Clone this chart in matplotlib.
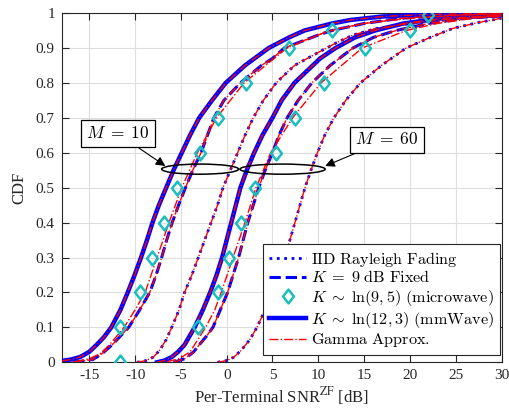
import matplotlib
matplotlib.use("Agg")
import matplotlib.pyplot as plt
from matplotlib.patches import Ellipse
from matplotlib.path import Path

plt.rcParams['font.family'] = ['Liberation Serif', 'DejaVu Serif']
plt.rcParams['mathtext.fontset'] = 'cm'
plt.rcParams['axes.unicode_minus'] = False

# ---------------- data ----------------
# M = 10, mmWave K ~ ln(12,3) (solid)
S10_x = [-18, -17, -16, -15, -14.2, -13.4, -12.6, -11.6, -10.8, -10.05, -9.35, -8.7, -8.1, -7.4, -6.6,
         -5.8, -4.9, -4.0, -3.0, -1.6, -0.1, 2.0, 4.6, 6.8, 8.5, 10.0, 11.5, 13.5, 17, 22, 30]
S10_y = [0.004, 0.008, 0.015, 0.03, 0.05, 0.072, 0.1, 0.15, 0.2, 0.25, 0.3, 0.35, 0.4, 0.45, 0.5,
         0.55, 0.6, 0.65, 0.7, 0.75, 0.8, 0.85, 0.9, 0.93, 0.95, 0.96, 0.97, 0.98, 0.99, 0.996, 0.999]
# M = 10, K = 9 dB fixed (dashed)
D10_x = [-16.8, -15.8, -14.6, -13.6, -12.5, -11.6, -10.7, -9.5, -8.4, -7.7, -7.1, -6.55, -5.95, -5.25,
         -4.5, -3.7, -2.8, -2.1, -1.4, -0.3, 1.5, 3.8, 5.0, 6.3, 10.0, 11.5, 15, 19, 25, 30]
D10_y = [0.001, 0.003, 0.008, 0.025, 0.05, 0.075, 0.1, 0.15, 0.2, 0.25, 0.3, 0.35, 0.4, 0.45,
         0.5, 0.55, 0.6, 0.65, 0.7, 0.75, 0.8, 0.85, 0.87, 0.9, 0.937, 0.95, 0.97, 0.985, 0.994, 0.998]
# M = 10, microwave K ~ ln(9,5) (markers)
W10_x = [-11.7, -9.45, -8.2, -6.85, -5.45, -2.9, -1.0, 2.1, 6.8, 11.5, 22.0]
W10_y = [0.1, 0.2, 0.3, 0.4, 0.5, 0.6, 0.7, 0.8, 0.9, 0.95, 0.994]
# M = 10, gamma approximation of the microwave case
GW10_x = [-16.5, -15.0, -13.8, -12.8, -11.2, -10.0, -8.9, -7.6, -6.3, -4.9, -3.2, -1.1, 1.9,
          6.6, 11.2, 15, 20, 26, 30]
GW10_y = [0.002, 0.01, 0.025, 0.05, 0.1, 0.15, 0.2, 0.3, 0.4, 0.5, 0.6, 0.7, 0.8,
          0.9, 0.95, 0.97, 0.985, 0.994, 0.997]
# M = 10, IID Rayleigh (dotted)
R10_x = [-9.8, -8.8, -8.0, -7.3, -6.6, -6.0, -5.2, -4.6, -3.8, -3.1, -2.4, -1.7, -1.0, -0.4, 0.4,
         1.2, 2.0, 2.9, 4.0, 5.4, 7.4, 10.2, 12.0, 13.8, 16.2, 20, 24, 28, 30]
R10_y = [0.0, 0.005, 0.015, 0.035, 0.065, 0.1, 0.15, 0.2, 0.25, 0.3, 0.35, 0.4, 0.45, 0.5, 0.55,
         0.6, 0.65, 0.7, 0.75, 0.8, 0.85, 0.89, 0.915, 0.937, 0.955, 0.97, 0.982, 0.99, 0.993]

# M = 60, mmWave (solid)
S60_x = [-7.6, -6.8, -6.0, -5.3, -4.6, -3.5, -2.6, -1.8, -1.1, -0.5, 0.0, 0.5, 1.0, 1.5, 2.2, 3.0,
         3.9, 5.0, 6.0, 7.4, 9.0, 10.2, 11.9, 14.0, 16.2, 19.3, 23.5, 30]
S60_y = [0.0, 0.005, 0.015, 0.03, 0.05, 0.1, 0.15, 0.2, 0.25, 0.3, 0.35, 0.4, 0.45, 0.5, 0.55, 0.6,
         0.65, 0.7, 0.75, 0.8, 0.84, 0.87, 0.9, 0.93, 0.95, 0.97, 0.985, 0.994]
# M = 60, K = 9 dB fixed (dashed)
D60_x = [-5.8, -4.6, -3.6, -3.0, -2.2, -1.5, -0.7, 0.1, 0.7, 1.3, 1.8, 2.3, 2.9, 3.5, 4.2, 5.0,
         5.7, 6.6, 7.8, 9.3, 11.3, 13.8, 16, 18.5, 22, 26, 30]
D60_y = [0.0, 0.01, 0.03, 0.05, 0.075, 0.1, 0.15, 0.2, 0.25, 0.3, 0.35, 0.4, 0.45, 0.5, 0.55, 0.6,
         0.65, 0.7, 0.75, 0.8, 0.85, 0.9, 0.93, 0.95, 0.97, 0.985, 0.992]
# M = 60, microwave (markers)
W60_x = [-11.6, -3.1, -1.0, 0.2, 1.6, 3.1, 5.4, 7.5, 10.6, 15.1, 20.0]
W60_y = [0.0, 0.1, 0.2, 0.3, 0.4, 0.5, 0.6, 0.7, 0.8, 0.9, 0.95]
# M = 60, gamma approximation of the microwave case
GW60_x = [-6.5, -5.2, -4.0, -2.3, -1.3, -0.6, 0.7, 2.0, 3.2, 4.8, 7.2, 10.3, 14.8, 19.6, 23, 27, 30]
GW60_y = [0.002, 0.01, 0.03, 0.1, 0.15, 0.2, 0.3, 0.4, 0.5, 0.6, 0.7, 0.8, 0.9, 0.95, 0.97, 0.985, 0.99]
# M = 60, IID Rayleigh (dotted)
R60_x = [-1.0, 0.0, 0.8, 1.6, 2.5, 3.3, 4.2, 4.9, 5.6, 6.3, 6.9, 7.45, 8.0, 8.55, 9.2, 9.9, 10.7,
         11.7, 13.0, 14.6, 16.9, 19.6, 22.2, 24.7, 27.5, 30]
R60_y = [0.0, 0.005, 0.015, 0.035, 0.064, 0.1, 0.15, 0.2, 0.25, 0.3, 0.35, 0.4, 0.45, 0.5, 0.55, 0.6,
         0.65, 0.7, 0.75, 0.8, 0.85, 0.9, 0.93, 0.956, 0.973, 0.985]

x_ticks = [-15, -10, -5, 0, 5, 10, 15, 20, 25, 30]
y_ticks = [0, 0.1, 0.2, 0.3, 0.4, 0.5, 0.6, 0.7, 0.8, 0.9, 1]
y_tick_labels = ['0', '0.1', '0.2', '0.3', '0.4', '0.5', '0.6', '0.7', '0.8', '0.9', '1']
legend_labels = [r'$\mathrm{IID\ Rayleigh\ Fading}$',
                 r'$K\;=\;9\ \mathrm{dB\ Fixed}$',
                 r'$K\;\sim\;\ln(9,5)\ \mathrm{(microwave)}$',
                 r'$K\;\sim\;\ln(12,3)\ \mathrm{(mmWave)}$',
                 r'$\mathrm{Gamma\ Approx.}$']

# ---------------- figure ----------------
fig = plt.figure(figsize=(5.09, 4.09), dpi=100)
ax = fig.add_axes([0.1214, 0.1142, 0.8639, 0.854])

blue = (0, 0, 1)
red = (1, 0, 0)
cyan = '#19BFBF'
diamond = Path([(0, 1), (0.78, 0), (0, -1), (-0.78, 0), (0, 1)],
               [Path.MOVETO, Path.LINETO, Path.LINETO, Path.LINETO, Path.CLOSEPOLY])

h_r, = ax.plot(R10_x, R10_y, ':', color=blue, lw=2.0, zorder=3)
ax.plot(R60_x, R60_y, ':', color=blue, lw=2.0, zorder=3)
h_d, = ax.plot(D10_x, D10_y, '--', color=blue, lw=2.2, zorder=3)
ax.plot(D60_x, D60_y, '--', color=blue, lw=2.2, zorder=3)
h_s, = ax.plot(S10_x, S10_y, '-', color=blue, lw=3.2, zorder=3)
ax.plot(S60_x, S60_y, '-', color=blue, lw=3.2, zorder=3)

# gamma approximations (coincide with the simulated curves except microwave)
for gx, gy in [(R10_x, R10_y), (R60_x, R60_y), (D10_x, D10_y), (D60_x, D60_y),
               (S10_x, S10_y), (S60_x, S60_y), (GW10_x, GW10_y), (GW60_x, GW60_y)]:
    h_g, = ax.plot(gx, gy, '-.', color=red, lw=1.0, zorder=4)

h_w, = ax.plot(W10_x, W10_y, linestyle='none', marker=diamond, ms=10, mfc='none',
               mec=cyan, mew=1.8, zorder=5)
ax.plot(W60_x, W60_y, linestyle='none', marker=diamond, ms=10, mfc='none',
        mec=cyan, mew=1.8, zorder=5)

ax.set_xlim(-18, 30)
ax.set_ylim(0, 1)
ax.set_xticks(x_ticks)
ax.set_yticks(y_ticks)
ax.set_yticklabels(y_tick_labels)
ax.grid(True, color=(0.87, 0.87, 0.87), lw=0.8)
ax.set_axisbelow(True)
ax.tick_params(direction='in', top=True, right=True, length=5, width=0.8,
               labelsize=11, colors=(0.15, 0.15, 0.15), pad=5)
for sp in ax.spines.values():
    sp.set_color((0.15, 0.15, 0.15))
    sp.set_linewidth(0.8)

ax.set_xlabel(r'Per-Terminal SNR$^{\mathrm{ZF}}$ [dB]', fontsize=12, color=(0.15, 0.15, 0.15),
              labelpad=2, math_fontfamily='stix')
ax.set_ylabel('CDF', fontsize=12, color=(0.15, 0.15, 0.15), labelpad=6)

# ellipses and annotations
ax.add_patch(Ellipse((-2.9, 0.553), 8.4, 0.029, fill=False, ec='black', lw=1.1, zorder=6))
ax.add_patch(Ellipse((6.1, 0.553), 9.3, 0.029, fill=False, ec='black', lw=1.1, zorder=6))
box = dict(boxstyle='square,pad=0.3', fc='white', ec='black', lw=0.9)
arrow = dict(arrowstyle='-|>', color='black', lw=0.8, mutation_scale=14, shrinkA=0, shrinkB=0)
ax.annotate(r'$M\;=\;10$', xy=(-6.7, 0.562), xytext=(-11.9, 0.655), fontsize=12.5,
            ha='center', va='center', bbox=box, arrowprops=arrow, zorder=7)
ax.annotate(r'$M\;=\;60$', xy=(10.75, 0.562), xytext=(17.5, 0.636), fontsize=12.5,
            ha='center', va='center', bbox=box, arrowprops=arrow, zorder=7)

leg = ax.legend([h_r, h_d, h_w, h_s, h_g], legend_labels, loc='lower right',
                bbox_to_anchor=(0.9966, 0.0209), fontsize=11.7, handlelength=2.3,
                handletextpad=0.3, labelspacing=0.1, borderpad=0.35, borderaxespad=0.0,
                fancybox=False, framealpha=1, edgecolor=(0.15, 0.15, 0.15))
leg.get_frame().set_linewidth(0.8)
leg.set_zorder(10)

fig.savefig('out.png', dpi=100)
